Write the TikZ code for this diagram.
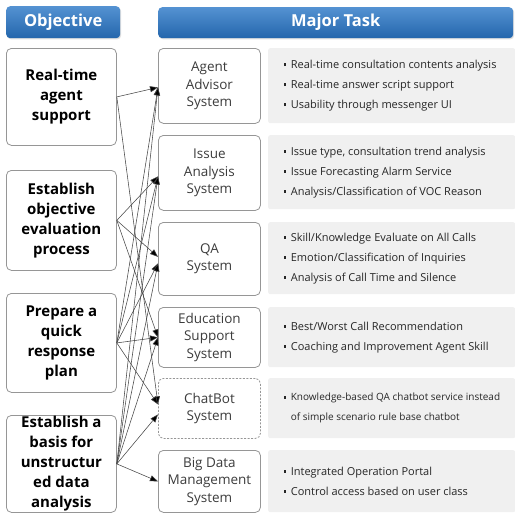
\documentclass[tikz,border=0pt]{standalone}
\usepackage{fontspec}
\setmainfont{Open Sans}
\usetikzlibrary{arrows.meta,shadows}
\definecolor{hdrtop}{RGB}{84,146,210}
\definecolor{hdrbot}{RGB}{36,102,172}
\definecolor{boxgray}{RGB}{150,150,150}
\definecolor{panelgray}{RGB}{240,240,240}
\definecolor{textgray}{RGB}{60,60,60}
\definecolor{linegray}{RGB}{70,70,70}
\newcommand\sqb{\raisebox{0.22em}{\rule{2.8pt}{2.8pt}}\hspace{4.5pt}}
\begin{document}
\begin{tikzpicture}[x=1pt,y=-1pt,
 hdr/.style={rounded corners=4pt, top color=hdrtop, bottom color=hdrbot, draw=none, text=white,
   font=\fontsize{16.5}{18}\selectfont\bfseries, anchor=north west, inner sep=0pt,
   drop shadow={opacity=0.25, shadow xshift=1pt, shadow yshift=-1.2pt}},
 obj/.style={draw=boxgray, rounded corners=5pt, fill=white, line width=0.8pt, anchor=north west,
   minimum width=110pt, inner sep=0pt, font=\fontsize{15}{20}\selectfont\bfseries, align=center},
 task/.style={draw=boxgray, rounded corners=5pt, fill=white, line width=0.8pt, anchor=north west,
   minimum width=102pt, inner sep=0pt, font=\fontsize{13.5}{17.5}\selectfont, align=center, text=textgray},
 panel/.style={fill=panelgray, rounded corners=2pt, anchor=north west, minimum width=247pt, inner sep=0pt},
 ptext/.style={anchor=west, align=left, text=black!85, font=\fontsize{11}{20}\selectfont},
 lnk/.style={draw=linegray, line width=0.55pt, -{Triangle[length=8pt,width=6pt,fill=black]}}
]
\useasboundingbox (0,0) rectangle (515,515);
% headers
\node[hdr, minimum width=114pt, minimum height=32pt] (h1) at (6,6) {Objective};
\node[hdr, minimum width=355pt, minimum height=31pt] (h2) at (158,7) {Major Task};
% objective boxes
\node[obj, minimum height=97pt] (o1) at (6,48) {Real-time\\agent\\support};
\node[obj, minimum height=100pt] (o2) at (6,170) {Establish\\objective\\evaluation\\process};
\node[obj, minimum height=99pt] (o3) at (6,293) {Prepare a\\quick\\response\\plan};
\node[obj, minimum height=97pt] (o4) at (6,415) {Establish a\\basis for\\unstructur\\ed data\\analysis};
% task boxes
\node[task, minimum height=75pt] (t1) at (158,48) {Agent\\Advisor\\System};
\node[task, minimum height=75pt] (t2) at (158,135) {Issue\\Analysis\\System};
\node[task, minimum height=73pt] (t3) at (158,222) {QA\\System};
\node[task, minimum height=60pt] (t4) at (158,307) {Education\\Support\\System};
\node[task, minimum height=60pt, dashed, dash pattern=on 2pt off 1.5pt] (t5) at (158,378) {ChatBot\\System};
\node[task, minimum height=62pt] (t6) at (158,450) {Big Data\\Management\\System};
% panels
\node[panel, minimum height=75pt] (p1) at (268,48) {};
\node[panel, minimum height=74pt] (p2) at (268,135) {};
\node[panel, minimum height=72pt] (p3) at (268,222) {};
\node[panel, minimum height=60pt] (p4) at (268,307) {};
\node[panel, minimum height=60pt] (p5) at (268,378) {};
\node[panel, minimum height=62pt] (p6) at (268,450) {};
\node[ptext] (d1) at (p1.west) [xshift=12pt] {\sqb Real-time consultation contents analysis\\\sqb Real-time answer script support\\\sqb Usability through messenger UI};
\node[ptext] (d2) at (p2.west) [xshift=12pt] {\sqb Issue type, consultation trend analysis\\\sqb Issue Forecasting Alarm Service\\\sqb Analysis/Classification of VOC Reason};
\node[ptext] (d3) at (p3.west) [xshift=12pt] {\sqb Skill/Knowledge Evaluate on All Calls\\\sqb Emotion/Classification of Inquiries\\\sqb Analysis of Call Time and Silence};
\node[ptext] (d4) at (p4.west) [xshift=12pt] {\sqb Best/Worst Call Recommendation\\\sqb Coaching and Improvement Agent Skill};
\node[ptext, font=\fontsize{10}{20}\selectfont] (d5) at (p5.west) [xshift=12pt] {\sqb Knowledge-based QA chatbot service instead\\\phantom{\sqb}of simple scenario rule base chatbot};
\node[ptext] (d6) at (p6.west) [xshift=12pt] {\sqb Integrated Operation Portal\\\sqb Control access based on user class};
% connectors
\draw[lnk] (o1.east) -- ([yshift=-1.5pt]t1.west);
\draw[lnk] (o1.east) -- ([yshift=4pt]t5.west);
\draw[lnk] (o2.east) -- ([yshift=-3.5pt]t2.west);
\draw[lnk] (o2.east) -- ([yshift=2pt]t3.west);
\draw[lnk] (o2.east) -- (t4.west);
\draw[lnk] (o3.east) -- ([yshift=-1.5pt]t1.west);
\draw[lnk] (o3.east) -- ([yshift=-3.5pt]t2.west);
\draw[lnk] (o3.east) -- ([yshift=-4.5pt]t3.west);
\draw[lnk] (o3.east) -- (t4.west);
\draw[lnk] (o3.east) -- ([yshift=4pt]t5.west);
\draw[lnk] (o4.east) -- ([yshift=-1.5pt]t1.west);
\draw[lnk] (o4.east) -- ([yshift=-3.5pt]t2.west);
\draw[lnk] (o4.east) -- ([yshift=-4.5pt]t3.west);
\draw[lnk] (o4.east) -- (t4.west);
\draw[lnk] (o4.east) -- ([yshift=-6pt]t5.west);
\draw[lnk] (o4.east) -- (t6.west);
\end{tikzpicture}
\end{document}
